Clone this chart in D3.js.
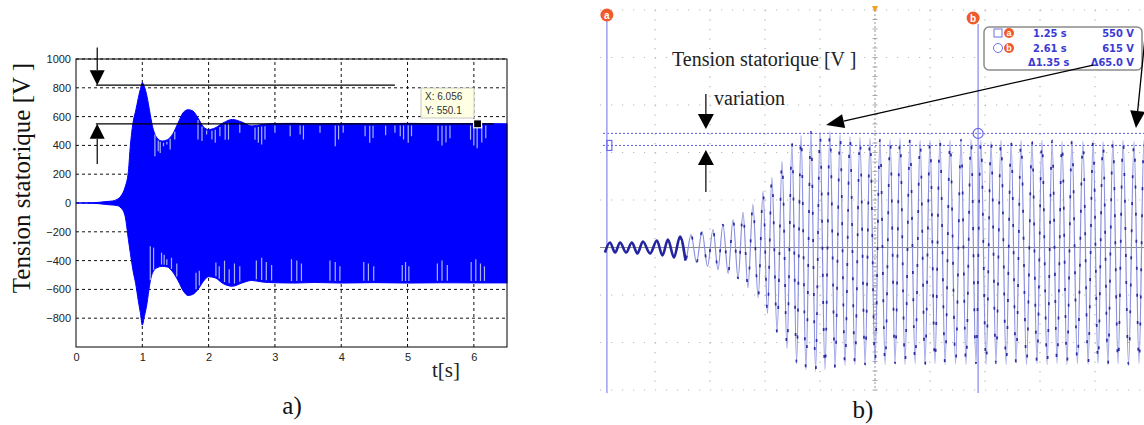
<!DOCTYPE html>
<html><head><meta charset="utf-8">
<script src="https://cdn.jsdelivr.net/npm/d3@7"></script>
<style>body{margin:0;background:#fff}svg{display:block}</style>
</head><body>
<svg id="c" width="1144" height="425"></svg>
<script>
// ================= Panel a) simulation =================
const aXTicks = [0, 1, 2, 3, 4, 5, 6];
const aYTicks = [1000, 800, 600, 400, 200, 0, -200, -400, -600, -800];
const envT     = [0, 0.30, 0.45, 0.55, 0.62, 0.68, 0.74, 0.79, 0.82, 0.86, 0.90, 0.94, 0.97, 1.00, 1.03, 1.07, 1.11, 1.15, 1.22, 1.30, 1.38, 1.46, 1.54, 1.62, 1.69, 1.76, 1.84, 1.92, 2.00, 2.10, 2.22, 2.36, 2.50, 2.65, 2.80, 3.00, 3.30, 3.60, 4.00, 4.50, 5.00, 5.50, 6.00, 6.50];
const envUpper = [0, 3, 10, 14, 25, 50, 110, 220, 400, 557, 640, 730, 790, 835, 810, 742, 640, 540, 453, 430, 440, 480, 557, 630, 648, 640, 590, 530, 510, 522, 557, 580, 562, 535, 545, 552, 553, 550, 552, 550, 553, 551, 552, 550];
const envLower = [0, -3, -10, -14, -18, -35, -90, -253, -350, -470, -560, -680, -760, -848, -790, -700, -570, -490, -450, -440, -445, -480, -540, -612, -642, -635, -600, -545, -512, -520, -560, -578, -556, -538, -548, -554, -556, -552, -556, -553, -556, -554, -555, -555];
const upperStripeT = [1.19, 1.24, 1.27, 1.32, 1.37, 1.42, 1.49, 1.84, 1.90, 1.97, 2.05, 2.10, 2.17, 2.25, 2.30, 2.47, 2.70, 2.75, 2.80, 2.85, 3.00, 3.23, 3.38, 3.43, 3.68, 3.91, 3.96, 4.03, 4.36, 4.43, 4.48, 4.67, 4.81, 4.89, 4.94, 5.01, 5.06, 5.46, 5.52, 5.58, 5.64, 5.95, 6.00, 6.05, 6.12, 6.18];
const upperStripeV = [325, 360, 348, 394, 406, 371, 441, 441, 430, 475, 441, 418, 464, 440, 440, 487, 440, 418, 406, 441, 487, 464, 475, 441, 487, 394, 441, 487, 464, 418, 452, 470, 487, 464, 441, 418, 464, 430, 400, 420, 450, 440, 400, 380, 420, 450];
const lowerStripeT = [1.12, 1.17, 1.29, 1.33, 1.37, 1.44, 1.52, 1.81, 1.86, 2.11, 2.16, 2.24, 2.31, 2.39, 2.47, 2.72, 2.80, 2.87, 2.95, 3.25, 3.33, 3.40, 3.83, 3.91, 3.98, 4.34, 4.41, 4.49, 4.92, 4.97, 5.02, 5.45, 5.52, 5.60, 5.96, 6.03, 6.10, 6.16];
const lowerStripeV = [-300, -310, -345, -360, -390, -380, -420, -484, -470, -413, -440, -400, -460, -420, -440, -400, -380, -410, -430, -390, -400, -420, -400, -410, -440, -410, -420, -440, -430, -410, -440, -420, -400, -430, -410, -390, -420, -440];
const refLevels = [818, 550];
const refStart = [0.30, 0.30];
const refEnd = [4.81, 6.30];
const tipPoint = [6.056, 550.1];
const tipLabels = ["X: 6.056", "Y: 550.1"];

// ================= Panel b) oscilloscope =================
const scopePeakT = [1.261,1.298,1.341,1.381,1.432,1.472,1.516,1.556,1.596,1.636,1.672,1.709,1.745,1.781,1.818,1.850,1.887,1.923,1.956,1.992,2.025,2.061,2.098,2.134,2.170,2.207,2.243,2.280,2.316,2.352,2.389,2.425,2.461,2.498,2.538,2.574,2.610,2.647,2.683,2.720,2.756,2.796,2.832,2.869,2.905,2.941,2.981,3.018,3.054,3.090,3.127,3.167,3.203];
const scopePeakV = [27,27,27,32,38,43,59,70,86,97,124,151,189,232,302,377,464,561,604,625,620,625,609,598,593,588,582,582,588,582,577,577,582,577,582,582,577,571,577,571,577,571,577,577,571,577,571,577,571,577,577,571,577];
const scopeTroughT = [1.243,1.280,1.320,1.361,1.407,1.452,1.494,1.536,1.576,1.616,1.654,1.691,1.727,1.763,1.800,1.834,1.869,1.905,1.940,1.974,2.009,2.043,2.080,2.116,2.152,2.189,2.225,2.262,2.298,2.334,2.371,2.407,2.443,2.480,2.518,2.556,2.592,2.629,2.665,2.702,2.738,2.776,2.814,2.851,2.887,2.923,2.961,3.000,3.036,3.072,3.109,3.147,3.185,3.222];
const scopeTroughV = [-27,-27,-27,-32,-32,-43,-54,-70,-81,-102,-119,-140,-167,-216,-270,-356,-458,-544,-620,-658,-668,-658,-647,-636,-631,-631,-625,-631,-625,-631,-625,-631,-625,-631,-625,-631,-625,-631,-625,-631,-625,-631,-625,-631,-625,-631,-625,-631,-625,-631,-625,-631,-625,-631];
const cursorT = [1.25, 2.60];
const cursorV = [550, 615];
const cursorNames = ["a", "b"];
const readTime = ["1.25 s", "2.61 s", "\u03941.35 s"];
const readVolt = ["550 V", "615 V", "\u039465.0 V"];

// ================= drawing =================
const svg = d3.select('#c');
const serif = '"Liberation Serif","Times New Roman",serif';
const sans = '"Liberation Sans",Arial,sans-serif';
const narrow = '"Liberation Sans Narrow","DejaVu Sans Condensed","Arial Narrow",sans-serif';

function arrow(g, x1, y1, x2, y2, hl, hw, sw, col) {
  const a = Math.atan2(y2 - y1, x2 - x1);
  const bx = x2 - hl * Math.cos(a), by = y2 - hl * Math.sin(a);
  g.append('line').attr('x1', x1).attr('y1', y1).attr('x2', bx).attr('y2', by)
    .attr('stroke', col || '#000').attr('stroke-width', sw);
  const px = -Math.sin(a) * hw / 2, py = Math.cos(a) * hw / 2;
  g.append('path').attr('d', `M${x2},${y2}L${bx + px},${by + py}L${bx - px},${by - py}Z`).attr('fill', col || '#000');
}

// ---------- panel a ----------
const xa = d3.scaleLinear().domain([0, 6.5]).range([76, 507]);
const ya = d3.scaleLinear().domain([-1000, 1000]).range([347, 59]);
const ga = svg.append('g');

ga.selectAll('line.vg').data(aXTicks.filter(d => d > 0)).join('line').attr('class', 'vg')
  .attr('x1', d => xa(d)).attr('x2', d => xa(d)).attr('y1', ya(-1000)).attr('y2', ya(1000))
  .attr('stroke', '#111').attr('stroke-dasharray', '3,3');
ga.selectAll('line.hg').data(aYTicks).join('line').attr('class', 'hg')
  .attr('x1', xa(0)).attr('x2', xa(6.5)).attr('y1', d => ya(d)).attr('y2', d => ya(d))
  .attr('stroke', '#111').attr('stroke-dasharray', '3,3');

const env = envT.map((t, i) => ({ t, u: envUpper[i], l: envLower[i] }));
ga.append('path').datum(env)
  .attr('d', d3.area().x(d => xa(d.t)).y0(d => ya(d.l)).y1(d => ya(d.u)).curve(d3.curveMonotoneX))
  .attr('fill', '#0000ff').attr('stroke', '#0000ff').attr('stroke-width', 1);

function envAt(t, key) {
  const i = Math.max(1, d3.bisectLeft(envT, t));
  const a = env[i - 1], b = env[i];
  const f = (t - a.t) / (b.t - a.t);
  return a[key] + f * (b[key] - a[key]);
}
const up = upperStripeT.map((t, i) => ({ t, v: upperStripeV[i] }));
const lo = lowerStripeT.map((t, i) => ({ t, v: lowerStripeV[i] }));
ga.selectAll('line.us').data(up).join('line').attr('class', 'us')
  .attr('x1', d => xa(d.t)).attr('x2', d => xa(d.t))
  .attr('y1', d => ya(envAt(d.t, 'u')) + 2).attr('y2', d => ya(d.v))
  .attr('stroke', '#a9b2f2').attr('stroke-width', 1.2);
ga.selectAll('line.ls').data(lo).join('line').attr('class', 'ls')
  .attr('x1', d => xa(d.t)).attr('x2', d => xa(d.t))
  .attr('y1', d => ya(envAt(d.t, 'l')) - 2).attr('y2', d => ya(d.v))
  .attr('stroke', '#a9b2f2').attr('stroke-width', 1.2);

ga.append('rect').attr('x', xa(0)).attr('y', ya(1000)).attr('width', xa(6.5) - xa(0)).attr('height', ya(-1000) - ya(1000))
  .attr('fill', 'none').attr('stroke', '#000').attr('stroke-width', 1);

const axL = ga.append('g').attr('transform', `translate(${xa(0)},0)`)
  .call(d3.axisLeft(ya).tickValues(aYTicks).tickFormat(d3.format('d')).tickSize(0).tickPadding(5));
axL.select('.domain').remove();
axL.selectAll('text').attr('font-family', sans).attr('font-size', 11).attr('fill', '#222');
const axB = ga.append('g').attr('transform', `translate(0,${ya(-1000)})`)
  .call(d3.axisBottom(xa).tickValues(aXTicks).tickFormat(d3.format('d')).tickSize(0).tickPadding(6));
axB.select('.domain').remove();
axB.selectAll('text').attr('font-family', sans).attr('font-size', 11).attr('fill', '#222');

// reference lines and arrows
refLevels.forEach((v, i) => {
  ga.append('line').attr('x1', xa(refStart[i])).attr('x2', xa(refEnd[i]))
    .attr('y1', ya(v)).attr('y2', ya(v)).attr('stroke', '#000').attr('stroke-width', 1.2);
});
arrow(ga, xa(0.32), ya(1080), xa(0.32), ya(refLevels[0]), 15, 15, 1.2);
arrow(ga, xa(0.32), ya(270), xa(0.32), ya(refLevels[1]), 15, 15, 1.2);

// datatip
ga.append('rect').attr('x', 421).attr('y', 88).attr('width', 53).attr('height', 30)
  .attr('fill', '#ffffe4').attr('stroke', '#c8c8c0');
tipLabels.forEach((s, i) => ga.append('text').attr('x', 425).attr('y', 100 + i * 14).text(s)
  .attr('font-family', sans).attr('font-size', 10).attr('fill', '#333'));
ga.append('rect').attr('x', xa(tipPoint[0]) - 4).attr('y', ya(tipPoint[1]) - 4).attr('width', 8).attr('height', 8)
  .attr('fill', '#000').attr('stroke', '#fff').attr('stroke-width', 1.2);

ga.append('text').attr('transform', `translate(30,178) rotate(-90)`).attr('text-anchor', 'middle')
  .attr('font-family', serif).attr('font-size', 25).attr('fill', '#111').text('Tension statorique [V ]');
ga.append('text').attr('x', 432).attr('y', 377).attr('font-family', serif).attr('font-size', 21).attr('fill', '#222').text('t[s]');
ga.append('text').attr('x', 292).attr('y', 414).attr('text-anchor', 'middle').attr('font-family', serif).attr('font-size', 25).attr('fill', '#111').text('a)');

// ---------- panel b ----------
const xb = d3.scaleLinear().domain([1.225, 3.225]).range([600, 1150]);
const yb = d3.scaleLinear().domain([-768, 1280]).range([390, 10]);
const gb = svg.append('g');
const gridT = d3.range(0, 11).map(k => 1.225 + 0.2 * k);
const gridV = d3.range(0, 9).map(j => -768 + 256 * j);

gb.selectAll('line.bv').data(gridT.filter((d, k) => k > 0 && k !== 5)).join('line').attr('class', 'bv')
  .attr('x1', d => xb(d)).attr('x2', d => xb(d)).attr('y1', yb(1280)).attr('y2', yb(-768))
  .attr('stroke', '#b8b8b8').attr('stroke-width', 1.2).attr('stroke-dasharray', '1.2,8.3');
gb.selectAll('line.bh').data(gridV).join('line').attr('class', 'bh')
  .attr('x1', 600).attr('x2', 1144).attr('y1', d => yb(d)).attr('y2', d => yb(d))
  .attr('stroke', '#b8b8b8').attr('stroke-width', 1.2).attr('stroke-dasharray', '1.2,9.8');
// center vertical axis with ticks
const xc = xb(gridT[5]);
gb.append('line').attr('x1', xc).attr('x2', xc).attr('y1', yb(1280)).attr('y2', yb(-768))
  .attr('stroke', '#999').attr('stroke-dasharray', '2,2');
gb.selectAll('line.ct').data(d3.range(0, 41)).join('line').attr('class', 'ct')
  .attr('x1', xc - 2.5).attr('x2', xc + 2.5)
  .attr('y1', d => yb(1280) + d * 9.5).attr('y2', d => yb(1280) + d * 9.5)
  .attr('stroke', '#aaa');
// zero line
gb.append('line').attr('x1', 600).attr('x2', 1144).attr('y1', yb(0)).attr('y2', yb(0)).attr('stroke', '#8a8a8a').attr('stroke-width', 1);

// cursor levels
cursorV.forEach(v => gb.append('line').attr('x1', 603).attr('x2', 1144).attr('y1', yb(v)).attr('y2', yb(v))
  .attr('stroke', '#5c5ce6').attr('stroke-width', 1).attr('stroke-dasharray', '2,2'));
// cursor lines
cursorT.forEach((t, i) => gb.append('line').attr('x1', xb(t)).attr('x2', xb(t)).attr('y1', i ? 24 : 20).attr('y2', 393)
  .attr('stroke', '#a4a4f2').attr('stroke-width', 1.6));

// signal
const pts = scopePeakT.map((t, i) => ({ t, v: scopePeakV[i] }))
  .concat(scopeTroughT.map((t, i) => ({ t, v: scopeTroughV[i] })))
  .sort((a, b) => a.t - b.t);
const sline = d3.line().x(d => xb(d.t)).y(d => yb(d.v)).curve(d3.curveMonotoneX);
gb.append('path').datum(pts).attr('d', sline).attr('fill', 'none').attr('stroke', '#8a8fde').attr('stroke-width', 1.2);
gb.append('path').datum(pts.filter(d => d.t > 1.5)).attr('d', sline).attr('fill', 'none')
  .attr('stroke', '#2b2ba6').attr('stroke-width', 1.7).attr('stroke-dasharray', '3,24');
gb.append('path').datum(pts.filter(d => d.t < 1.55)).attr('d', sline).attr('fill', 'none')
  .attr('stroke', '#2424a0').attr('stroke-width', 2.6);

// cursor markers
gb.append('rect').attr('x', xb(cursorT[0])).attr('y', yb(cursorV[0]) - 5).attr('width', 5).attr('height', 10)
  .attr('fill', 'none').attr('stroke', '#6a6ae8').attr('stroke-width', 1.2);
gb.append('circle').attr('cx', xb(cursorT[1])).attr('cy', yb(cursorV[1])).attr('r', 5)
  .attr('fill', 'none').attr('stroke', '#6a6ae8').attr('stroke-width', 1.2);
const tagPos = [[xb(cursorT[0]), 15], [xb(cursorT[1]) - 5, 18]];
cursorNames.forEach((n, i) => {
  gb.append('circle').attr('cx', tagPos[i][0]).attr('cy', tagPos[i][1]).attr('r', 6.5).attr('fill', '#ee5a2a');
  gb.append('text').attr('x', tagPos[i][0]).attr('y', tagPos[i][1] + 3.5).attr('text-anchor', 'middle')
    .attr('font-family', sans).attr('font-weight', 'bold').attr('font-size', 10).attr('fill', '#fff').text(n);
});
gb.append('path').attr('d', `M${xc - 3},6L${xc + 3},6L${xc},12Z`).attr('fill', '#f0a020');

// readout box
gb.append('rect').attr('x', 984).attr('y', 27).attr('width', 158).attr('height', 43).attr('rx', 5)
  .attr('fill', '#fff').attr('stroke', '#8c8c8c').attr('stroke-width', 1.5);
gb.append('rect').attr('x', 994).attr('y', 29).attr('width', 8).attr('height', 8).attr('fill', 'none').attr('stroke', '#7070e0');
gb.append('circle').attr('cx', 998).attr('cy', 48).attr('r', 4.5).attr('fill', 'none').attr('stroke', '#7070e0');
cursorNames.forEach((n, i) => {
  const cy = 33 + i * 15;
  gb.append('circle').attr('cx', 1009).attr('cy', cy).attr('r', 5).attr('fill', '#ee5a2a');
  gb.append('text').attr('x', 1009).attr('y', cy + 3.3).attr('text-anchor', 'middle').attr('font-family', sans)
    .attr('font-weight', 'bold').attr('font-size', 9).attr('fill', '#fff').text(n);
});
readTime.forEach((s, i) => gb.append('text').attr('x', i < 2 ? 1033 : 1028).attr('y', 37 + i * 14.5).text(s)
  .attr('font-family', narrow).attr('font-weight', 'bold').attr('font-size', 11).attr('fill', '#3a3ad4'));
readVolt.forEach((s, i) => gb.append('text').attr('x', 1134).attr('y', 37 + i * 14.5).attr('text-anchor', 'end').text(s)
  .attr('font-family', narrow).attr('font-weight', 'bold').attr('font-size', 11).attr('fill', '#3a3ad4'));

// annotations
gb.append('text').attr('x', 672).attr('y', 66).attr('font-family', serif).attr('font-size', 20).attr('fill', '#222').text('Tension statorique [V ]');
gb.append('text').attr('x', 714).attr('y', 105).attr('font-family', serif).attr('font-size', 20).attr('fill', '#222').text('variation');
arrow(gb, xb(1.610), yb(827), xb(1.610), yb(639), 15, 16, 1.2);
arrow(gb, xb(1.610), yb(299), xb(1.610), yb(525), 15, 16, 1.2);
arrow(gb, xb(3.018), yb(983), xb(2.047), yb(660), 18, 14, 1.3);
arrow(gb, xb(3.207), yb(1134), xb(3.174), yb(644), 17, 15, 1.3);
gb.append('text').attr('x', 863).attr('y', 418).attr('text-anchor', 'middle').attr('font-family', serif).attr('font-size', 25).attr('fill', '#111').text('b)');
</script>
</body></html>
